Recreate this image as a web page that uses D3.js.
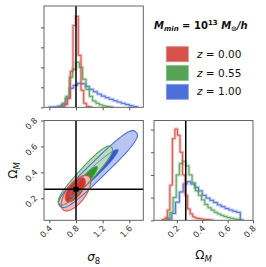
<!DOCTYPE html>
<html>
<head>
<meta charset="utf-8">
<script src="https://cdn.jsdelivr.net/npm/d3@7"></script>
<style>
body { margin: 0; background: #fff; }
text { font-family: "DejaVu Sans", sans-serif; }
</style>
</head>
<body>
<div id="chart"></div>
<script>
// redshift labels, order: z=0.00, 0.55, 1.00
var zLabels = ["0.00", "0.55", "1.00"];
var fiducial = [0.8, 0.27];

// sigma8 histograms (uniform bins per series)
var s8Start = [0.595, 0.55, 0.40];
var s8Width = [0.04, 0.05, 0.06];
var s8Counts = [
	[0.05, 0.15, 0.45, 1.8, 4.1, 4.55, 2.6, 0.85, 0.2, 0.05, 0.02],
	[0.05, 0.2, 0.55, 1.5, 1.9, 2.25, 2.0, 1.4, 0.9, 0.55, 0.32, 0.2, 0.12, 0.07, 0.04, 0.02],
	[0.01, 0.02, 0.05, 0.15, 0.45, 0.95, 1.1, 1.2, 1.18, 1.05, 0.9, 0.78, 0.66, 0.56, 0.48, 0.4, 0.33, 0.26, 0.2, 0.14, 0.08, 0.03]
];

// Omega_M histograms
var omStart = [0.085, 0.12, 0.13];
var omWidth = [0.02, 0.025, 0.03];
var omCounts = [
	[0.03, 0.1, 0.45, 1.55, 3.6, 4.02, 3.75, 3.0, 2.0, 1.1, 0.5, 0.28, 0.15, 0.1, 0.08, 0.06, 0.04, 0.03, 0.02, 0.01],
	[0.1, 0.35, 1.0, 2.0, 2.5, 2.6, 2.4, 2.0, 1.65, 1.3, 1.1, 0.9, 0.7, 0.55, 0.45, 0.35, 0.28, 0.22, 0.17, 0.12, 0.09, 0.06, 0.04, 0.02],
	[0.05, 0.3, 0.8, 1.25, 1.6, 1.7, 1.6, 1.45, 1.3, 1.1, 0.98, 0.88, 0.78, 0.68, 0.6, 0.52, 0.45, 0.4, 0.35]
];

// 2D contours: centre, tip of major axis (sigma8, Omega_M), minor/major ratio, squareness
var outerCenter = [[0.80, 0.24], [0.94, 0.375], [1.13, 0.425]];
var outerTip = [[0.99, 0.37], [1.33, 0.595], [1.70, 0.71]];
var outerRatio = [0.45, 0.19, 0.16];
var outerPower = [2, 2.6, 3];
var innerCenter = [[0.79, 0.265], [0.92, 0.33], [1.06, 0.395]];
var innerTip = [[0.92, 0.355], [1.12, 0.445], [1.43, 0.575]];
var innerRatio = [0.45, 0.2, 0.14];

var s8Ticks = [0.4, 0.8, 1.2, 1.6],
	omTicks = [0.2, 0.4, 0.6, 0.8];

var colors = ["#d5524b", "#56a356", "#4d6fdb"],
	darks = ["#d6302b", "#2f962f", "#3457d8"];

var svg = d3.select("#chart").append("svg")
	.attr("width", 266)
	.attr("height", 267);

var L = 44, R = 143.3, L2 = 154, R2 = 253,
	T1 = 6, B1 = 107.3, T2 = 120.5, B2 = 220.3;

var sx = d3.scaleLinear().domain([0.32, 1.81]).range([L, R]),
	sy = d3.scaleLinear().domain([0.03, 0.8]).range([B2, T2]),
	ox = d3.scaleLinear().domain([0.02, 0.8]).range([L2, R2]),
	hy1 = d3.scaleLinear().domain([0, 5.07]).range([B1, T1]),
	hy2 = d3.scaleLinear().domain([0, 4.4]).range([B2, T2]);

function stepPoints(start, w, counts) {
	var pts = [[start, 0]];
	counts.forEach(function(c, i) {
		pts.push([start + i * w, c]);
		pts.push([start + (i + 1) * w, c]);
	});
	pts.push([start + counts.length * w, 0]);
	return pts;
}

function drawHist(g, xs, ys, start, width, counts) {
	[2, 1, 0].forEach(function(k) {
		var line = d3.line().x(function(d) { return xs(d[0]); }).y(function(d) { return ys(d[1]); });
		var pts = stepPoints(start[k], width[k], counts[k]);
		g.append("path").attr("d", line(pts))
			.attr("fill", "none").attr("stroke", colors[k])
			.attr("stroke-opacity", 0.35).attr("stroke-width", 3);
		g.append("path").attr("d", line(pts))
			.attr("fill", "none").attr("stroke", colors[k])
			.attr("stroke-width", 1);
	});
}

function frame(x0, y0, x1, y1) {
	svg.append("rect").attr("x", x0).attr("y", y0)
		.attr("width", x1 - x0).attr("height", y1 - y0)
		.attr("fill", "none").attr("stroke", "#555").attr("stroke-width", 0.9);
}

function styleAxis(g, labels) {
	g.select(".domain").remove();
	g.selectAll("line").attr("stroke", "#555");
	if (!labels) g.selectAll("text").remove();
	else g.selectAll("text").style("font-size", "8.3px").attr("fill", "#333");
}

// top-left: sigma8 marginal
svg.append("clipPath").attr("id", "cTL").append("rect")
	.attr("x", L).attr("y", T1).attr("width", R - L).attr("height", B1 - T1);
var gTL = svg.append("g").attr("clip-path", "url(#cTL)");
drawHist(gTL, sx, hy1, s8Start, s8Width, s8Counts);
gTL.append("line").attr("x1", sx(fiducial[0])).attr("x2", sx(fiducial[0]))
	.attr("y1", T1).attr("y2", B1).attr("stroke", "#000").attr("stroke-width", 1.5);
frame(L, T1, R, B1);
styleAxis(svg.append("g").attr("transform", "translate(0," + B1 + ")")
	.call(d3.axisBottom(sx).tickValues(s8Ticks).tickSize(3)), false);
styleAxis(svg.append("g").attr("transform", "translate(" + L + ",0)")
	.call(d3.axisLeft(hy1).tickValues([0, 1, 2, 3, 4]).tickSize(3)), false);

// bottom-right: Omega_M marginal
svg.append("clipPath").attr("id", "cBR").append("rect")
	.attr("x", L2).attr("y", T2).attr("width", R2 - L2).attr("height", B2 - T2);
var gBR = svg.append("g").attr("clip-path", "url(#cBR)");
drawHist(gBR, ox, hy2, omStart, omWidth, omCounts);
gBR.append("line").attr("x1", ox(fiducial[1])).attr("x2", ox(fiducial[1]))
	.attr("y1", T2).attr("y2", B2).attr("stroke", "#000").attr("stroke-width", 1.5);
frame(L2, T2, R2, B2);
var axBR = svg.append("g").attr("transform", "translate(0," + B2 + ")")
	.call(d3.axisBottom(ox).tickValues(omTicks).tickSize(3).tickFormat(d3.format(".1f")));
styleAxis(axBR, true);
styleAxis(svg.append("g").attr("transform", "translate(" + L2 + ",0)")
	.call(d3.axisLeft(hy2).tickValues([0, 1, 2, 3, 4]).tickSize(3)), false);

// bottom-left: contours
svg.append("clipPath").attr("id", "cBL").append("rect")
	.attr("x", L).attr("y", T2).attr("width", R - L).attr("height", B2 - T2);
var gBL = svg.append("g").attr("clip-path", "url(#cBL)");

function ellipse(c, tip, ratio, p) {
	p = p || 2;
	var p0 = [sx(c[0]), sy(c[1])], p1 = [sx(tip[0]), sy(tip[1])];
	var u = [p1[0] - p0[0], p1[1] - p0[1]];
	var v = [-u[1] * ratio, u[0] * ratio];
	return d3.range(0, 96).map(function(i) {
		var t = i / 96 * 2 * Math.PI, ct = Math.cos(t), st = Math.sin(t);
		var a = Math.sign(ct) * Math.pow(Math.abs(ct), 2 / p),
			b = Math.sign(st) * Math.pow(Math.abs(st), 2 / p);
		return [p0[0] + u[0] * a + v[0] * b, p0[1] + u[1] * a + v[1] * b];
	});
}
var loopLine = d3.line().curve(d3.curveLinearClosed);

[2, 1, 0].forEach(function(k) {
	gBL.append("path").attr("d", loopLine(ellipse(outerCenter[k], outerTip[k], outerRatio[k], outerPower[k])))
		.attr("fill", d3.interpolateRgb("#fff", colors[k])(0.4));
	gBL.append("path").attr("d", loopLine(ellipse(innerCenter[k], innerTip[k], innerRatio[k])))
		.attr("fill", darks[k]);
});
[2, 1, 0].forEach(function(k) {
	gBL.append("path").attr("d", loopLine(ellipse(outerCenter[k], outerTip[k], outerRatio[k], outerPower[k])))
		.attr("fill", "none").attr("stroke", colors[k]).attr("stroke-width", 1.1);
	gBL.append("path").attr("d", loopLine(ellipse(innerCenter[k], innerTip[k], innerRatio[k])))
		.attr("fill", "none").attr("stroke", colors[k]).attr("stroke-width", 0.8);
});
gBL.append("line").attr("x1", sx(fiducial[0])).attr("x2", sx(fiducial[0]))
	.attr("y1", T2).attr("y2", B2).attr("stroke", "#000").attr("stroke-width", 1.5);
gBL.append("line").attr("x1", L).attr("x2", R)
	.attr("y1", sy(fiducial[1])).attr("y2", sy(fiducial[1])).attr("stroke", "#000").attr("stroke-width", 1.5);
gBL.append("rect").attr("x", sx(fiducial[0]) - 2.5).attr("y", sy(fiducial[1]) - 2.5)
	.attr("width", 5).attr("height", 5).attr("fill", "#000");
frame(L, T2, R, B2);

var axBLx = svg.append("g").attr("transform", "translate(0," + B2 + ")")
	.call(d3.axisBottom(sx).tickValues(s8Ticks).tickSize(3).tickFormat(d3.format(".1f")));
styleAxis(axBLx, true);
var axBLy = svg.append("g").attr("transform", "translate(" + L + ",0)")
	.call(d3.axisLeft(sy).tickValues(omTicks).tickSize(3).tickFormat(d3.format(".1f")));
styleAxis(axBLy, true);

[axBLx, axBR].forEach(function(g) {
	g.selectAll("text").attr("x", 0).attr("y", 0).attr("dy", 0)
		.attr("transform", "translate(3,8.5) rotate(-45)")
		.style("text-anchor", "end");
});
axBLy.selectAll("text").attr("x", 0).attr("y", 0).attr("dy", 0)
	.attr("transform", "translate(-6,0) rotate(-45)")
	.style("text-anchor", "end");

// axis labels
var xl = svg.append("text").attr("x", (L + R) / 2).attr("y", 261)
	.attr("text-anchor", "middle").style("font-size", "12px").attr("fill", "#111");
xl.append("tspan").style("font-style", "italic").text("σ");
xl.append("tspan").attr("dy", 2.5).style("font-size", "8.5px").text("8");

var xl2 = svg.append("text").attr("x", (L2 + R2) / 2).attr("y", 259)
	.attr("text-anchor", "middle").style("font-size", "12px").attr("fill", "#111");
xl2.append("tspan").text("Ω");
xl2.append("tspan").attr("dy", 2.5).style("font-size", "8.5px").style("font-style", "italic").text("M");

var yl = svg.append("text").attr("transform", "translate(17," + (T2 + B2) / 2 + ") rotate(-90)")
	.attr("text-anchor", "middle").style("font-size", "12px").attr("fill", "#111");
yl.append("tspan").text("Ω");
yl.append("tspan").attr("dy", 2.5).style("font-size", "8.5px").style("font-style", "italic").text("M");

// legend
var title = svg.append("text").attr("x", 154).attr("y", 28.5)
	.style("font-size", "10px").style("font-weight", "bold").attr("fill", "#111");
title.append("tspan").style("font-style", "italic").text("M");
title.append("tspan").attr("dy", 2).style("font-size", "7px").style("font-style", "italic").text("min");
title.append("tspan").attr("dy", -2).text(" = 10");
title.append("tspan").attr("dy", -4).style("font-size", "7px").text("13");
title.append("tspan").attr("dy", 4).style("font-style", "italic").text(" M");
title.append("tspan").attr("dy", 2).style("font-size", "7px").text("⊙");
title.append("tspan").attr("dy", -2).style("font-style", "italic").text("/h");

zLabels.forEach(function(z, i) {
	var y = 46.7 + i * 18.8;
	svg.append("rect").attr("x", 166.3).attr("y", y).attr("width", 22).attr("height", 15)
		.attr("fill", colors[i]).attr("stroke", d3.interpolateRgb("#fff", colors[i])(0.7)).attr("stroke-width", 0.8);
	var t = svg.append("text").attr("x", 197).attr("y", y + 11)
		.style("font-size", "10.5px").attr("fill", "#111");
	t.append("tspan").style("font-style", "italic").text("z");
	t.append("tspan").text(" = " + z);
});
</script>
</body>
</html>
